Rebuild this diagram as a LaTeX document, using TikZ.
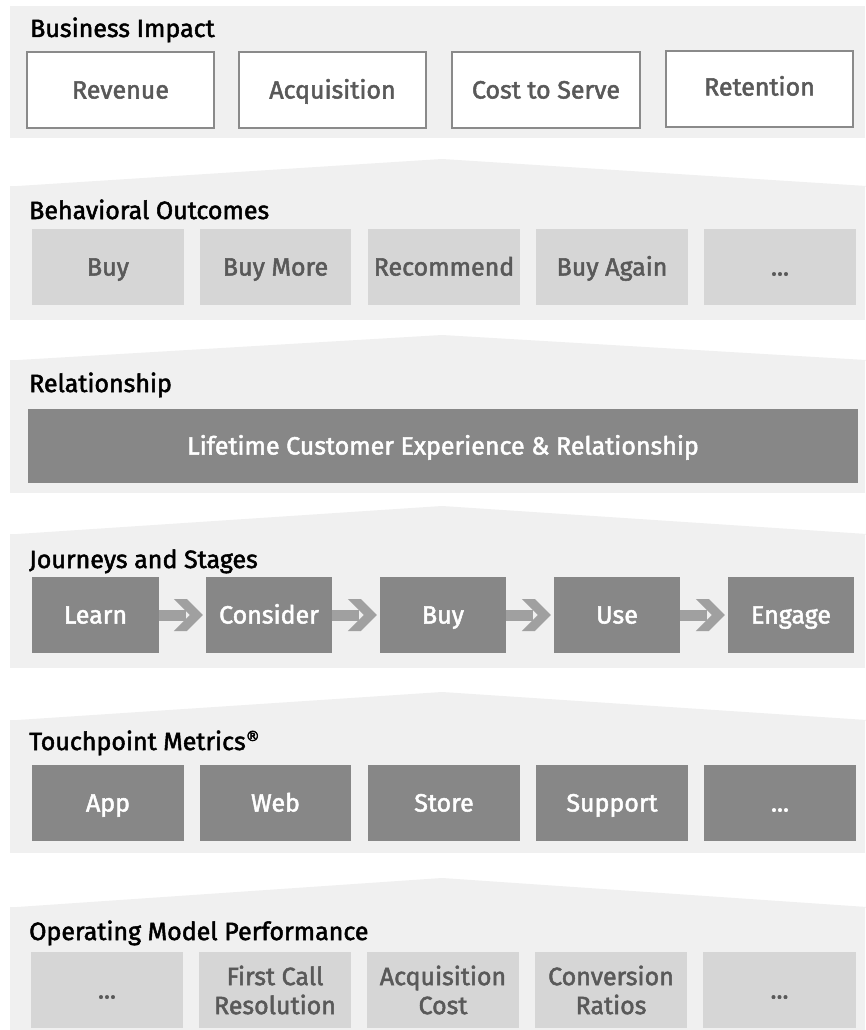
\documentclass[tikz,border=0pt]{standalone}
\usepackage{fontspec}
\setmainfont{Fira Sans}
\newfontfamily\symfont{DejaVu Sans}
\usetikzlibrary{calc}
\definecolor{panel}{HTML}{F0F0F0}
\definecolor{lightbox}{HTML}{D6D6D6}
\definecolor{darkbox}{HTML}{878787}
\definecolor{arrowc}{HTML}{A0A0A0}
\definecolor{boxtext}{HTML}{595959}
\definecolor{borderc}{HTML}{8A8A8A}
\newcommand{\heavier}{\special{pdf:literal direct 2 Tr 0.5 w}}
\newcommand{\regmark}{\raisebox{9pt}{\symfont\fontsize{14}{14}\selectfont ®}}
\tikzset{
  x=1pt, y=-1pt,
  ttl/.style={anchor=base west, inner sep=0pt, text=black, font=\fontsize{25}{26}\selectfont\heavier},
  boxbase/.style={inner sep=0pt, align=center, font=\fontsize{25}{29}\selectfont\heavier},
  oneline/.style={text height=17pt, text depth=0pt},
  whitebox/.style={boxbase, oneline, draw=borderc, line width=1.5pt, fill=white, text=boxtext},
  lightb/.style={boxbase, oneline, fill=lightbox, text=boxtext},
  lightbtwo/.style={boxbase, fill=lightbox, text=boxtext},
  darkb/.style={boxbase, oneline, fill=darkbox, text=white},
}
\newcommand{\boxat}[6]{% style, name, x1, y1, x2, y2, then {text}
  \node[#1, minimum width=#5-#3, minimum height=#6-#4] (#2) at ({(#3+#5)/2},{(#4+#6)/2})}
\newcommand{\roof}[2]{% band top y, apex y
  \fill[panel] (10,#1) -- (442,#2) -- (874,#1) -- cycle;}
\begin{document}
\begin{tikzpicture}
\useasboundingbox (0,0) rectangle (865,1030);
\fill[white] (0,0) rectangle (865,1030);

% panels and roofs
\fill[panel] (10,6) rectangle (865,138);
\roof{186.5}{159}
\fill[panel] (10,186) rectangle (865,320);
\roof{360.5}{335}
\fill[panel] (10,360) rectangle (865,493);
\roof{534.5}{506}
\fill[panel] (10,534) rectangle (865,668);
\roof{720.5}{692}
\fill[panel] (10,720) rectangle (865,853);
\roof{907.5}{878}
\fill[panel] (10,907) rectangle (865,1030);

% Business Impact
\node[ttl] (t1) at (30,37) {Business Impact};
\boxat{whitebox}{rev}{27}{52}{214}{128} {Revenue};
\boxat{whitebox}{acq}{239}{52}{426}{128} {Acquisition};
\boxat{whitebox}{cts}{452}{52}{640}{128} {Cost to Serve};
\boxat{whitebox}{ret}{666}{51}{853}{127} {\raisebox{2pt}{Retention}};

% Behavioral Outcomes
\node[ttl] (t2) at (29,219) {Behavioral Outcomes};
\boxat{lightb}{b1}{32}{229}{184}{305} {Buy};
\boxat{lightb}{b2}{200}{229}{351}{305} {Buy More};
\boxat{lightb}{b3}{368}{229}{520}{305} {Recommend};
\boxat{lightb}{b4}{536}{229}{688}{305} {Buy Again};
\boxat{lightb}{b5}{704}{229}{856}{305} {...};

% Relationship
\node[ttl] (t3) at (29,392) {Relationship};
\boxat{darkb}{life}{28}{409}{858}{483} {Lifetime Customer Experience \& Relationship};

% Journeys and Stages
\node[ttl] (t4) at (29,568) {Journeys and Stages};
\boxat{darkb}{learn}{32}{577}{159}{653} {Learn};
\boxat{darkb}{consider}{206}{577}{332}{653} {Consider};
\boxat{darkb}{jbuy}{380}{577}{506}{653} {Buy};
\boxat{darkb}{use}{554}{577}{680}{653} {Use};
\boxat{darkb}{engage}{728}{577}{854}{653} {Engage};
\foreach \a/\b in {learn/consider, consider/jbuy, jbuy/use, use/engage}{
  \fill[arrowc] ($(\a.east)+(0,-5)$) -- ++(27,0) -- ++(0,11) -- ++(-27,0) -- cycle;
  \fill[arrowc] ($(\b.west)+(-3,0)$) -- ++(-16,-16) -- ++(-13,0) -- ++(16,16)
        -- ++(-16,16) -- ++(13,0) -- cycle;
}

% Touchpoint Metrics
\node[ttl] (t5) at (29,750) {Touchpoint Metrics\regmark};
\boxat{darkb}{app}{32}{765}{184}{841} {App};
\boxat{darkb}{web}{200}{765}{351}{841} {Web};
\boxat{darkb}{store}{368}{765}{520}{841} {Store};
\boxat{darkb}{support}{536}{765}{688}{841} {Support};
\boxat{darkb}{tmore}{704}{765}{856}{841} {...};

% Operating Model Performance
\node[ttl] (t6) at (29,940) {Operating Model Performance};
\boxat{lightb}{o1}{31}{952}{183}{1028} {...};
\boxat{lightbtwo}{o2}{199}{952}{351}{1028} {First Call\\Resolution};
\boxat{lightbtwo}{o3}{367}{952}{519}{1028} {Acquisition\\Cost};
\boxat{lightbtwo}{o4}{535}{952}{687}{1028} {Conversion\\Ratios};
\boxat{lightb}{o5}{703}{952}{856}{1028} {...};
\end{tikzpicture}
\end{document}
